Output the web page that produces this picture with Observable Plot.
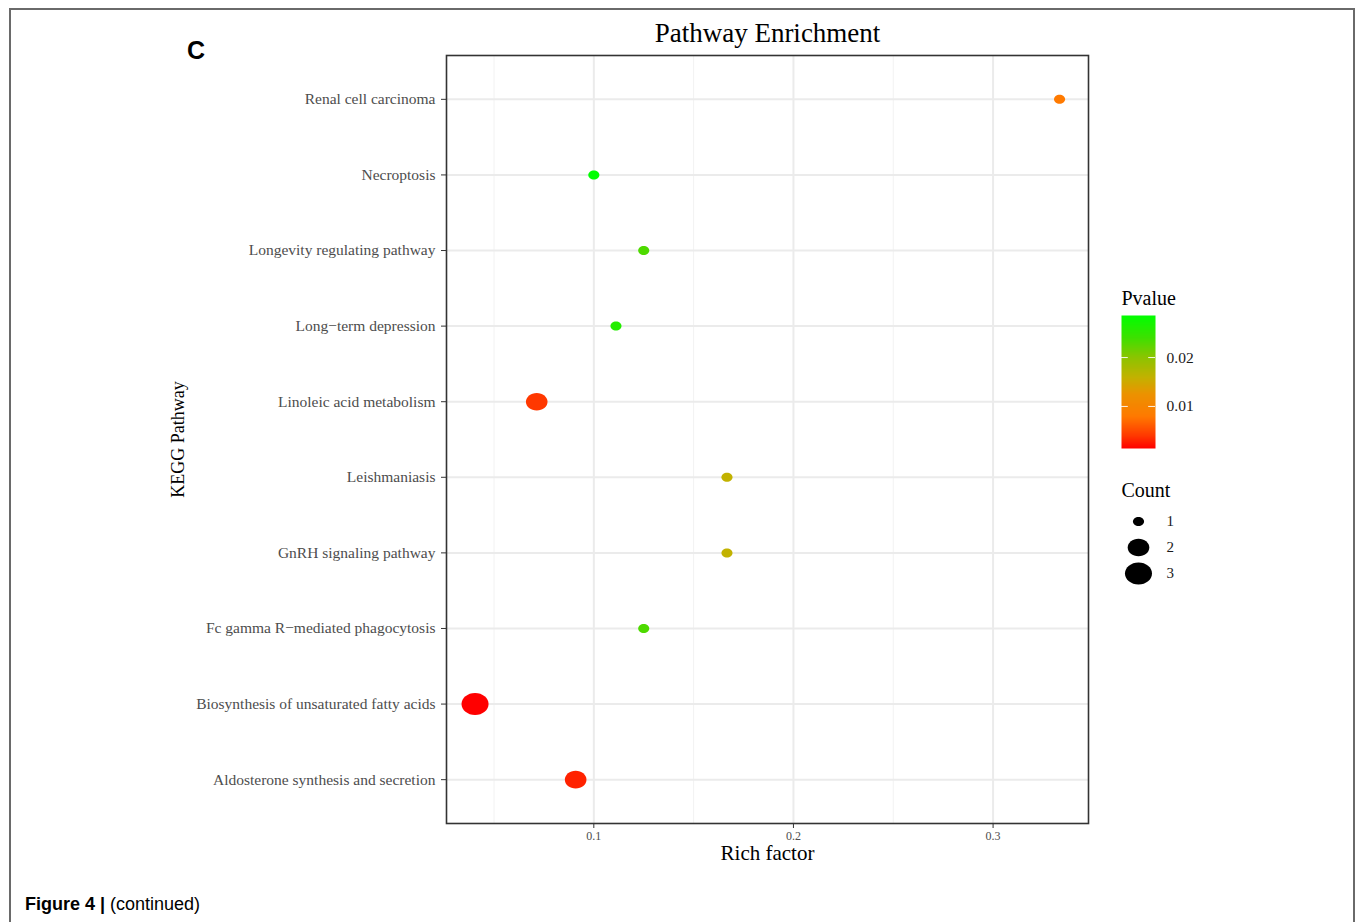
<!DOCTYPE html>
<html>
<head>
<meta charset="utf-8">
<script src="https://cdn.jsdelivr.net/npm/d3@7"></script>
<script src="https://cdn.jsdelivr.net/npm/@observablehq/plot@0.6"></script>
<style>
  html, body { margin: 0; padding: 0; background: #fff; }
  #page { position: relative; width: 1355px; height: 922px; overflow: hidden; }
  #border { position: absolute; left: 9px; top: 8px; width: 1342px; height: 960px;
            border: 2px solid #6a6a6a; border-bottom: none; }
  .abs { position: absolute; }
  #panelC { left: 187px; top: 36px; font: bold 25px "Liberation Sans", Arial, sans-serif; color: #000; }
  #caption { left: 25px; top: 894px; font: 18px "Liberation Sans", Arial, sans-serif; color: #000; }
  #caption b { font-weight: bold; }
</style>
</head>
<body>
<div id="page">
  <div id="main" class="abs" style="left:0;top:0"></div>
  <div id="legColor" class="abs" style="left:1100px;top:280px"></div>
  <div id="legSize" class="abs" style="left:1100px;top:470px"></div>
  <div id="border"></div>
  <div id="panelC" class="abs">C</div>
  <div id="caption" class="abs"><b>Figure 4 |</b> (continued)</div>
</div>
<script>
// ---- data ----
const pathways = [
  "Renal cell carcinoma",
  "Necroptosis",
  "Longevity regulating pathway",
  "Long\u2212term depression",
  "Linoleic acid metabolism",
  "Leishmaniasis",
  "GnRH signaling pathway",
  "Fc gamma R\u2212mediated phagocytosis",
  "Biosynthesis of unsaturated fatty acids",
  "Aldosterone synthesis and secretion"
];
const richFactor = [0.3333, 0.1000, 0.1250, 0.1111, 0.0714, 0.1667, 0.1667, 0.1250, 0.0405, 0.0909];
const counts     = [1, 1, 1, 1, 2, 1, 1, 1, 3, 2];
const pvalues    = [0.0080, 0.0286, 0.0232, 0.0260, 0.0040, 0.0160, 0.0160, 0.0232, 0.0014, 0.0030];
const xMajorTicks = [0.1, 0.2, 0.3];
const xMinorTicks = [0.05, 0.15, 0.25];
const pTicks = [0.01, 0.02];
const countLevels = [1, 2, 3];
// colour ramp stops
const rampStops  = [0.0014, 0.0040, 0.0080, 0.0125, 0.0160, 0.0200, 0.0240, 0.0286];
const rampColors = ["#ff0000", "#ff3800", "#ff7a00", "#ec9200", "#c2b200", "#8cc400", "#3ee000", "#00ff00"];

const data = pathways.map((p, i) => ({pathway: p, rich: richFactor[i], count: counts[i], p: pvalues[i]}));
const pmin = d3.min(pvalues), pmax = d3.max(pvalues);

const serif = "'Liberation Serif', 'Times New Roman', serif";

// horizontally stretched dot (the reference is slightly stretched)
const ellipse = {
  draw(ctx, size) {
    const ry = Math.sqrt(size / Math.PI), rx = ry * 1.23, k = 0.5523;
    ctx.moveTo(rx, 0);
    ctx.bezierCurveTo(rx, k * ry, k * rx, ry, 0, ry);
    ctx.bezierCurveTo(-k * rx, ry, -rx, k * ry, -rx, 0);
    ctx.bezierCurveTo(-rx, -k * ry, -k * rx, -ry, 0, -ry);
    ctx.bezierCurveTo(k * rx, -ry, rx, -k * ry, rx, 0);
    ctx.closePath();
  }
};

const colorScale = {type: "linear", domain: rampStops, range: rampColors, interpolate: "rgb"};
const rScale = {type: "linear", domain: [1, 2, 3], range: [4.5, 8.8, 11]};

// ---- main chart ----
const main = Plot.plot({
  width: 1355, height: 880,
  marginTop: 55, marginBottom: 57, marginLeft: 446, marginRight: 267,
  style: {fontFamily: serif, background: "transparent", overflow: "visible"},
  x: {domain: [0.0262, 0.3478]},
  y: {type: "point", domain: pathways, padding: 0.58, round: false},
  color: colorScale,
  r: rScale,
  marks: [
    Plot.gridX(xMinorTicks, {stroke: "#f2f2f2", strokeOpacity: 1, strokeWidth: 1}),
    Plot.gridX(xMajorTicks, {stroke: "#ebebeb", strokeOpacity: 1, strokeWidth: 2}),
    Plot.gridY(pathways, {stroke: "#ebebeb", strokeOpacity: 1, strokeWidth: 2}),
    Plot.dot(data, {x: "rich", y: "pathway", r: "count", fill: "p", symbol: ellipse}),
    Plot.frame({stroke: "#333", strokeWidth: 1.6}),
    Plot.axisX(xMajorTicks, {tickSize: 5, tickPadding: 3, fontSize: 12, stroke: "#333", fill: "#4d4d4d",
      tickFormat: d => String(d), label: null}),
    Plot.axisY({tickSize: 5, tickPadding: 6, fontSize: 15.5, stroke: "#333", fill: "#4d4d4d", label: null}),
    Plot.text(["Pathway Enrichment"], {frameAnchor: "top", lineAnchor: "middle", dy: -22, fontSize: 27, fill: "#000"}),
    Plot.text(["Rich factor"], {frameAnchor: "bottom", lineAnchor: "middle", dy: 30, fontSize: 21, fill: "#000"}),
    Plot.text(["KEGG Pathway"], {frameAnchor: "left", textAnchor: "middle", lineAnchor: "middle", rotate: -90, dx: -268, fontSize: 18, fill: "#000"})
  ]
});
document.getElementById("main").appendChild(main);

// ---- colour legend ----
const rampMark = (typeof Plot.raster === "function")
  ? Plot.raster({fill: (x, y) => y, x1: 0, x2: 1, y1: pmin, y2: pmax})
  : Plot.rect(d3.range(0, 200), {x1: 0, x2: 1,
      y1: i => pmin + (pmax - pmin) * i / 200, y2: i => pmin + (pmax - pmin) * (i + 1) / 200,
      fill: i => pmin + (pmax - pmin) * (i + 0.5) / 200});
const legColor = Plot.plot({
  width: 120, height: 190,
  marginTop: 35, marginBottom: 22, marginLeft: 21, marginRight: 65,
  style: {fontFamily: serif, background: "transparent", overflow: "visible"},
  x: {domain: [0, 1], axis: null},
  y: {domain: [pmin, pmax]},
  color: colorScale,
  marks: [
    rampMark,
    Plot.ruleY(pTicks, {x1: 0, x2: 0.2, stroke: "white", strokeWidth: 1, strokeOpacity: 0.9}),
    Plot.ruleY(pTicks, {x1: 0.8, x2: 1, stroke: "white", strokeWidth: 1, strokeOpacity: 0.9}),
    Plot.axisY(pTicks, {anchor: "right", tickSize: 0, tickPadding: 11, fontSize: 15.5, fill: "#1a1a1a",
      tickFormat: d3.format(".2f"), label: null}),
    Plot.text(["Pvalue"], {frameAnchor: "top-left", textAnchor: "start", lineAnchor: "middle", dy: -17, fontSize: 20, fill: "#000"})
  ]
});
document.getElementById("legColor").appendChild(legColor);

// ---- size legend ----
const legSize = Plot.plot({
  width: 120, height: 120,
  marginTop: 50, marginBottom: 17, marginLeft: 38, marginRight: 40,
  style: {fontFamily: serif, background: "transparent", overflow: "visible"},
  y: {type: "point", domain: countLevels, padding: 0, axis: null},
  r: rScale,
  marks: [
    Plot.dot(countLevels, {y: d => d, r: d => d, fill: "#000", frameAnchor: "left", symbol: ellipse}),
    Plot.text(countLevels, {y: d => d, text: d => String(d), frameAnchor: "left", dx: 28, textAnchor: "start", fontSize: 15, fill: "#1a1a1a"}),
    Plot.text(["Count"], {frameAnchor: "top-left", textAnchor: "start", lineAnchor: "middle", dx: -17, dy: -30, fontSize: 20, fill: "#000"})
  ]
});
document.getElementById("legSize").appendChild(legSize);
</script>
</body>
</html>
